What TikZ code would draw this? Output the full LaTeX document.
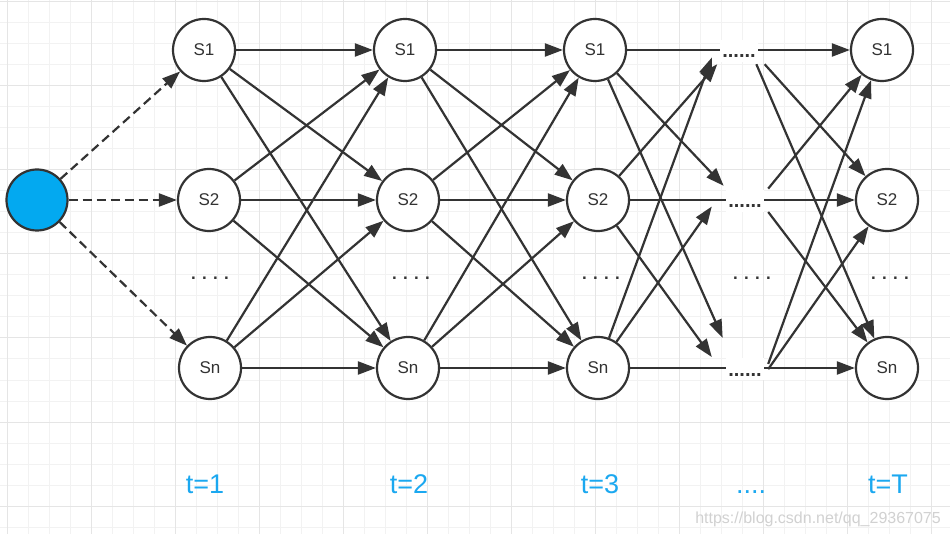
\documentclass[tikz,border=0pt]{standalone}
\usepackage{fontspec}
\setmainfont{Liberation Sans}
\usetikzlibrary{arrows.meta}

\definecolor{linegray}{HTML}{333333}
\definecolor{startblue}{HTML}{03A9F0}
\definecolor{labelblue}{HTML}{1BA8F0}
\definecolor{gridminor}{HTML}{F2F2F2}
\definecolor{gridmajor}{HTML}{E5E5E5}

\begin{document}
\begin{tikzpicture}[x=1pt, y=-1pt,
    state/.style={circle, draw=linegray, line width=2.2pt, fill=white, minimum size=62pt, inner sep=0pt, text=linegray, font=\fontsize{17}{20}\selectfont},
    start/.style={circle, draw=linegray, line width=2.2pt, fill=startblue, minimum size=61pt, inner sep=0pt},
    cell/.style={rectangle, minimum width=56pt, minimum height=28pt, inner sep=0pt},
    arr/.style={draw=linegray, line width=2.2pt, -{Triangle[length=18pt, width=13pt]}},
    dasharr/.style={arr, dash pattern=on 9pt off 5pt},
    gapdots/.style={fill=white, inner sep=2pt, text height=16pt, text depth=2pt, text=linegray, font=\bfseries\fontsize{20}{24}\selectfont, anchor=base},
    rowdots/.style={inner sep=0pt, text=linegray, font=\bfseries\fontsize{17}{20}\selectfont},
    steplabel/.style={inner sep=0pt, text=labelblue, font=\fontsize{27}{32}\selectfont, anchor=base},
    watermark/.style={inner sep=0pt, text=black!18, font=\fontsize{16}{19}\selectfont, anchor=base east}
]
    \useasboundingbox (0,0) rectangle (950,534);

    % background grid
    \path[fill=white] (0,0) rectangle (950,534);
    \foreach \gx in {7,28,...,950} \path[draw=gridminor, line width=1pt] (\gx,0) -- (\gx,534);
    \foreach \gy in {2,23,...,534} \path[draw=gridminor, line width=1pt] (0,\gy) -- (950,\gy);
    \foreach \gx in {7,91,...,950} \path[draw=gridmajor, line width=1pt] (\gx,0) -- (\gx,534);
    \foreach \gy in {2,86,...,534} \path[draw=gridmajor, line width=1pt] (0,\gy) -- (950,\gy);

    % start state
    \node[start] (s0) at (37,200) {};

    % states t=1
    \node[state] (a1) at (204,50) {S1};
    \node[state] (a2) at (209,200) {S2};
    \node[state] (an) at (210,368) {Sn};

    % states t=2
    \node[state] (b1) at (405,50) {S1};
    \node[state] (b2) at (408,200) {S2};
    \node[state] (bn) at (408,368) {Sn};

    % states t=3
    \node[state] (c1) at (595,50) {S1};
    \node[state] (c2) at (598,200) {S2};
    \node[state] (cn) at (598,368) {Sn};

    % states t=T
    \node[state] (e1) at (882,50) {S1};
    \node[state] (e2) at (887,200) {S2};
    \node[state] (en) at (887,368) {Sn};

    % gap between t=3 and t=T
    \node[cell] (d1) at (740,50) {};
    \node[cell] (d2) at (740,200) {};
    \node[cell, minimum height=44pt] (dn) at (740,360) {};

    % start to t=1
    \path[dasharr] (s0) -- (a1);
    \path[dasharr] (s0) -- (a2);
    \path[dasharr] (s0) -- (an);

    % t=1 to t=2
    \path[arr] (a1) -- (b1);
    \path[arr] (a1) -- (b2);
    \path[arr] (a1) -- (bn);
    \path[arr] (a2) -- (b1);
    \path[arr] (a2) -- (b2);
    \path[arr] (a2) -- (bn);
    \path[arr] (an) -- (b1);
    \path[arr] (an) -- (b2);
    \path[arr] (an) -- (bn);

    % t=2 to t=3
    \path[arr] (b1) -- (c1);
    \path[arr] (b1) -- (c2);
    \path[arr] (b1) -- (cn);
    \path[arr] (b2) -- (c1);
    \path[arr] (b2) -- (c2);
    \path[arr] (b2) -- (cn);
    \path[arr] (bn) -- (c1);
    \path[arr] (bn) -- (c2);
    \path[arr] (bn) -- (cn);

    % t=3 straight on to t=T
    \path[arr] (c1) -- (e1);
    \path[arr] (c2) -- (e2);
    \path[arr] (cn) -- (en);

    % t=3 into the gap
    \path[arr] (c2) -- (d1.212);
    \path[arr] (cn) -- (d1.195);
    \path[arr] (c1) -- (d2.139);
    \path[arr] (cn) -- (d2.193);
    \path[arr] (c1) -- (dn.128);
    \path[arr] (c2) -- (dn.174);

    % gap out to t=T
    \path[arr] (d1.-30) -- (e2);
    \path[arr] (d1.-41) -- (en);
    \path[arr] (d2.22) -- (e1);
    \path[arr] (d2.-23) -- (en);
    \path[arr] (dn.-8) -- (e1);
    \path[arr] (dn.-18) -- (e2);

    % dots in the gap
    \node[gapdots] (d1t) at (739,58) {......};
    \node[gapdots] (d2t) at (745,208) {......};
    \node[gapdots] (dnt) at (745,376) {......};

    % dots between S2 and Sn
    \node[rowdots] (a3) at (210,278) {. . . .};
    \node[rowdots] (b3) at (411,278) {. . . .};
    \node[rowdots] (c3) at (601,278) {. . . .};
    \node[rowdots] (d3) at (752,278) {. . . .};
    \node[rowdots] (e3) at (890,278) {. . . .};

    % time steps
    \node[steplabel] (t1) at (205,493) {t=1};
    \node[steplabel] (t2) at (409,493) {t=2};
    \node[steplabel] (t3) at (600,493) {t=3};
    \node[steplabel] (t4) at (751,493) {....};
    \node[steplabel] (tT) at (888,493) {t=T};

    \node[watermark] (wm) at (941,523) {https://blog.csdn.net/qq\_29367075};
\end{tikzpicture}
\end{document}
